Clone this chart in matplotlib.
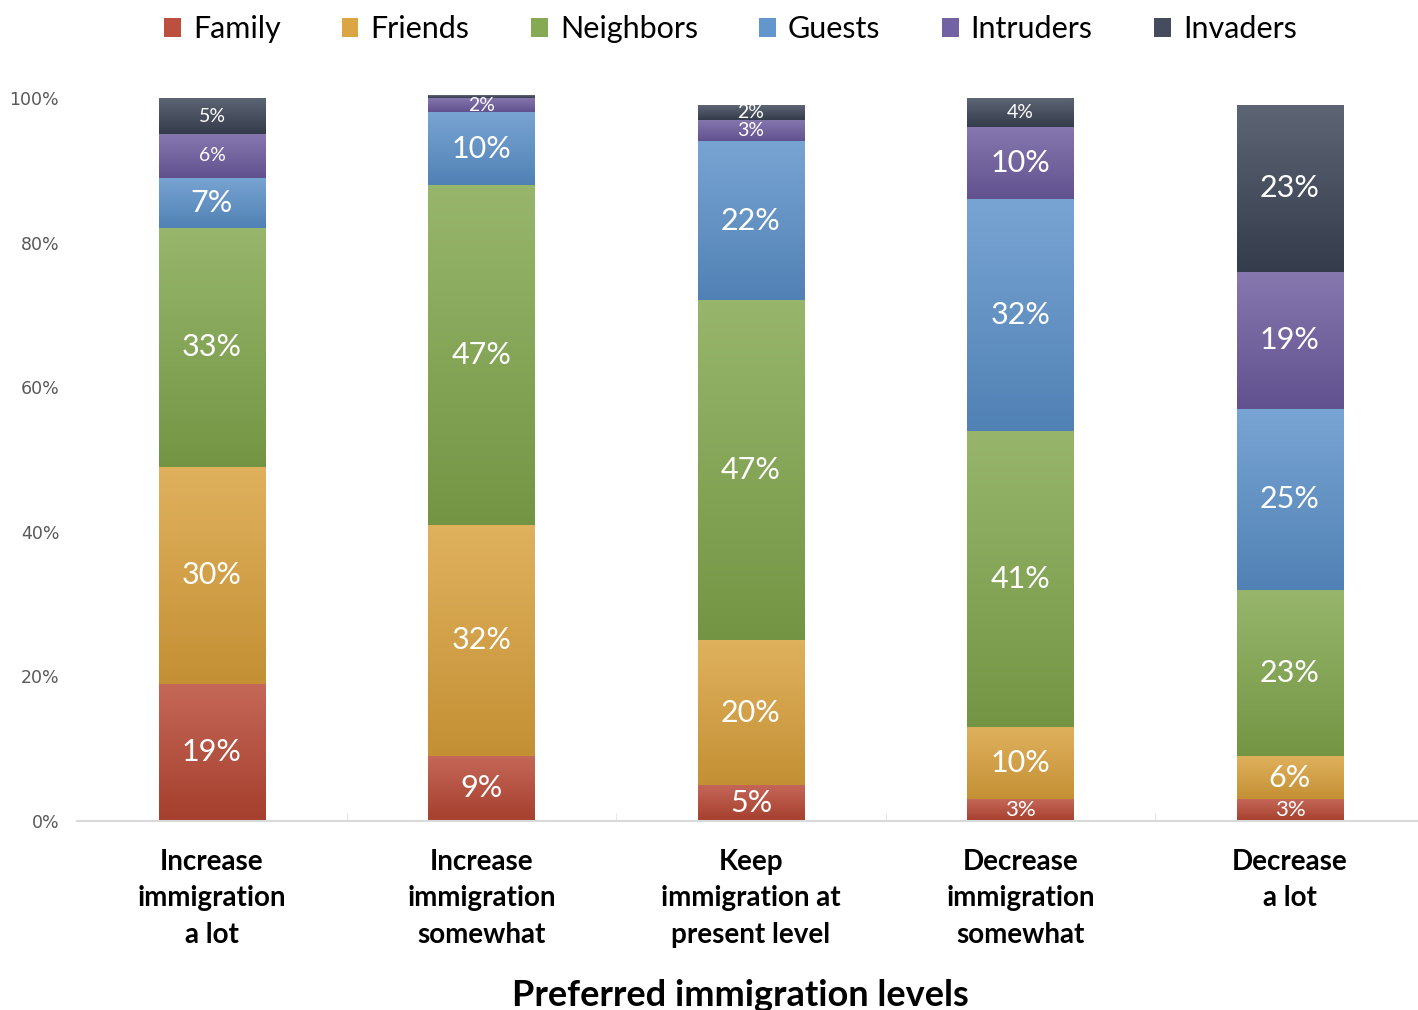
import numpy as np
import matplotlib
matplotlib.use("Agg")
import matplotlib.pyplot as plt
from matplotlib.patches import Patch
from matplotlib.colors import to_rgb

categories = ["Increase\nimmigration\na lot", "Increase\nimmigration\nsomewhat",
              "Keep\nimmigration at\npresent level", "Decrease\nimmigration\nsomewhat",
              "Decrease\na lot"]
series = ["Family", "Friends", "Neighbors", "Guests", "Intruders", "Invaders"]
family = [19, 9, 5, 3, 3]
friends = [30, 32, 20, 10, 6]
neighbors = [33, 47, 47, 41, 23]
guests = [7, 10, 22, 32, 25]
intruders = [6, 2, 3, 10, 19]
invaders = [5, 0.4, 2, 4, 23]
yticks = [0, 20, 40, 60, 80, 100]
ytick_labels = ["0%", "20%", "40%", "60%", "80%", "100%"]
xlabel = "Preferred immigration levels"

values = [family, friends, neighbors, guests, intruders, invaders]
colors = ["#B84633", "#D9A03A", "#80A64B", "#5A90C9", "#6C5A9E", "#3A4355"]
# label font sizes (style)
small_labels = {(0, 5): 14, (0, 4): 14, (1, 4): 14, (2, 4): 14, (2, 5): 14,
                (3, 5): 14, (3, 0): 16, (4, 0): 16}

W, H = 1418, 1010
fig = plt.figure(figsize=(W / 100, H / 100), dpi=100)
spacing = 269.5
x0px = 212 - spacing / 2
ax = fig.add_axes([x0px / W, 189 / H, (W - x0px) / W, (100.5 * 7.23) / H])

def mix(c, other, t):
    c = np.array(to_rgb(c)); o = np.array(to_rgb(other))
    return c * (1 - t) + o * t

xs = np.arange(len(categories))
bw = 107 / spacing
bottoms = np.zeros(len(categories))
for si, (name, vals, col) in enumerate(zip(series, values, colors)):
    vals = np.array(vals, dtype=float)
    bars = ax.bar(xs, vals, bw, bottom=bottoms, color="none", edgecolor="none", zorder=2)
    top_c = mix(col, "white", 0.18)
    bot_c = mix(col, "black", 0.10)
    grad = np.linspace(0, 1, 64)[:, None]
    img = top_c[None, None, :] * (1 - grad[:, :, None]) + bot_c[None, None, :] * grad[:, :, None]
    for bi, p in enumerate(bars):
        x_l = p.get_x(); x_r = x_l + p.get_width()
        y_b = p.get_y(); y_t = y_b + p.get_height()
        im = ax.imshow(img, extent=(x_l, x_r, y_b, y_t), origin="upper",
                       aspect="auto", zorder=2, interpolation="bilinear")
        im.set_clip_path(p)
        v = vals[bi]
        if v >= 1:
            fs = small_labels.get((bi, si), 22)
            ax.text(xs[bi], bottoms[bi] + v / 2, f"{v:.0f}%", ha="center", va="center",
                    color="white", fontsize=fs, family="Lato", zorder=4)
    bottoms += vals

ax.set_xlim(-0.5, -0.5 + (W - x0px) / spacing)
ax.set_ylim(0, 100.5)
ax.set_yticks(yticks)
ax.set_yticklabels(ytick_labels, fontsize=12.5, color="#595959", family="DejaVu Sans")
ax.tick_params(axis="y", length=0, pad=13)
ax.set_xticks(xs)
ax.set_xticklabels(categories, fontsize=20, fontweight="bold", family="Lato",
                   linespacing=1.5)
ax.tick_params(axis="x", length=0, pad=20)
ax.set_xticks(np.arange(len(categories) - 1) + 0.5, minor=True)
ax.tick_params(axis="x", which="minor", length=6, direction="in", color="#E0E0E0")
for s in ["top", "right", "left"]:
    ax.spines[s].set_visible(False)
ax.spines["bottom"].set_color("#D9D9D9")
ax.spines["bottom"].set_linewidth(1.5)
ax.patch.set_alpha(0)

handles = [Patch(facecolor=mix(c, "white", 0.05), edgecolor="none") for c in colors]
leg = fig.legend(handles, series, loc="upper center", bbox_to_anchor=(0.515, 1.012),
                 ncol=6, frameon=False, prop={"family": "Lato", "size": 22},
                 handlelength=0.55, handleheight=0.55, handletextpad=0.4, columnspacing=2.0)

fig.text(740 / W, 14 / H, xlabel, ha="center", va="center", fontsize=26,
         fontweight="bold", family="Lato")

fig.savefig("out.png", dpi=100)
